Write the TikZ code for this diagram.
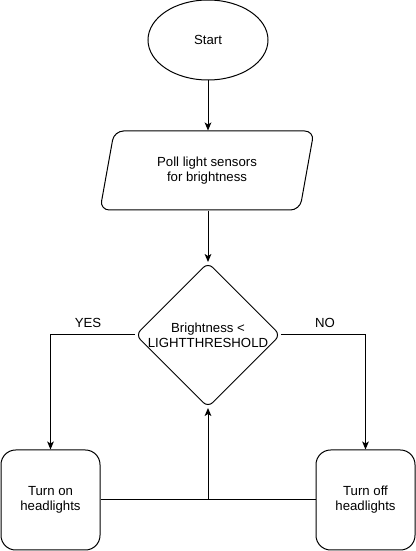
\documentclass[tikz,border=0pt]{standalone}
\usepackage{fontspec}
\setmainfont{Liberation Sans}
\usepackage{tikz}
\usetikzlibrary{calc,shapes.geometric,arrows.meta,positioning}
\tikzset{
	every node/.style={font=\fontsize{9.9}{11.25}\selectfont, align=center},
	box/.style={draw, line width=0.75pt},
	seta/.style={line width=0.75pt, -{Stealth[length=6pt,width=5pt,inset=1.5pt]}},
	linha/.style={line width=0.75pt}
}

\begin{document}
\begin{tikzpicture}[x=0.75pt,y=0.75pt]
	\useasboundingbox (0,0) rectangle (416,551);
	%%%%%%%% caixas %%%%%%%%%%%
	\node[box, ellipse, minimum width=120*0.75pt, minimum height=80*0.75pt, inner sep=0pt]
	(start) at (208,511) {Start};
	\node[box, trapezium, trapezium left angle=62.5, trapezium right angle=117.5,
	trapezium stretches body, minimum width=214*0.75pt, minimum height=79*0.75pt,
	rounded corners=7pt, inner sep=0pt]
	(poll) at (207,380.5) {Poll light sensors\\for brightness};
	\node[box, diamond, minimum width=144*0.75pt, minimum height=144*0.75pt,
	inner sep=0pt, rounded corners=5pt]
	(dec) at (208,216) {Brightness <\\LIGHTTHRESHOLD};
	\node[box, rectangle, rounded corners=11pt, minimum width=99*0.75pt,
	minimum height=100*0.75pt, inner sep=0pt]
	(on) at (50.5,51) {Turn on\\headlights};
	\node[box, rectangle, rounded corners=11pt, minimum width=99*0.75pt,
	minimum height=100*0.75pt, inner sep=0pt]
	(off) at (365.5,51) {Turn off\\headlights};
	
	%%%%%%%% setas %%%%%%%%%%%
	\draw[seta] (start.south) -- (start.south |- poll.north);
	\draw[seta] (dec.north |- poll.south) -- (dec.north);
	\draw[seta] (dec.west) -| (on.north);
	\draw[seta] (dec.east) -| (off.north);
	\draw[linha] (on.east) -- (off.west);
	\coordinate (meio) at (dec.south |- on.east);
	\draw[seta] (meio) -- (dec.south);
	
	%%%%%%%% rótulos %%%%%%%%%%%
	\node (yes) at (88,228) {YES};
	\node (no) at (325,228) {NO};
\end{tikzpicture}
\end{document}
